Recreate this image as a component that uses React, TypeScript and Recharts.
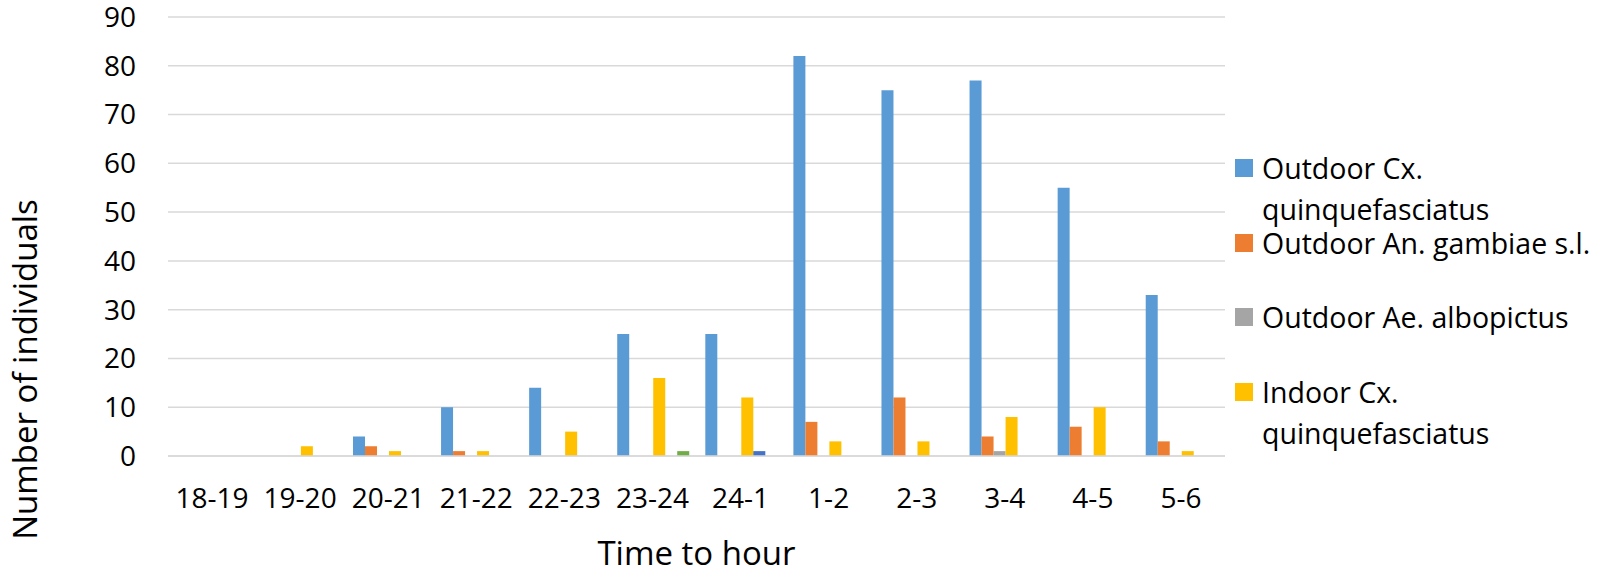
import { Bar, BarChart, CartesianGrid, Label, Legend, XAxis, YAxis } from "recharts";

const hours = ["18-19", "19-20", "20-21", "21-22", "22-23", "23-24", "24-1", "1-2", "2-3", "3-4", "4-5", "5-6"];

const outdoorCx = [0, 0, 4, 10, 14, 25, 25, 82, 75, 77, 55, 33];
const outdoorAn = [0, 0, 2, 1, 0, 0, 0, 7, 12, 4, 6, 3];
const outdoorAe = [0, 0, 0, 0, 0, 0, 0, 0, 0, 1, 0, 0];
const indoorCx = [0, 2, 1, 1, 5, 16, 12, 3, 3, 8, 10, 1];
const indoorAn = [0, 0, 0, 0, 0, 0, 1, 0, 0, 0, 0, 0];
const indoorAe = [0, 0, 0, 0, 0, 1, 0, 0, 0, 0, 0, 0];

const yTicks = [0, 10, 20, 30, 40, 50, 60, 70, 80, 90];

const series = [
  { key: "outdoorCx", name: "Outdoor Cx. quinquefasciatus", color: "#5B9BD5", values: outdoorCx, legend: true },
  { key: "outdoorAn", name: "Outdoor An. gambiae s.l.", color: "#ED7D31", values: outdoorAn, legend: true },
  { key: "outdoorAe", name: "Outdoor Ae. albopictus", color: "#A5A5A5", values: outdoorAe, legend: true },
  { key: "indoorCx", name: "Indoor Cx. quinquefasciatus", color: "#FFC000", values: indoorCx, legend: true },
  { key: "indoorAn", name: "Indoor An. gambiae s.l.", color: "#4472C4", values: indoorAn, legend: false },
  { key: "indoorAe", name: "Indoor Ae. albopictus", color: "#70AD47", values: indoorAe, legend: false },
];

const data = hours.map((hour, i) => {
  const row: Record<string, string | number> = { hour };
  series.forEach((s) => {
    row[s.key] = s.values[i];
  });
  return row;
});

const FONT = '"Open Sans", "Noto Sans", sans-serif';

// only the first four series are shown in the legend (the rest is cut off in the original)
function LegendBox() {
  return (
    <div style={{ fontFamily: FONT }}>
      {series
        .filter((s) => s.legend)
        .map((s) => (
          <div key={s.key} style={{ display: "flex", alignItems: "flex-start", height: 74.5 }}>
            <span
              style={{
                width: 18,
                height: 18,
                background: s.color,
                marginTop: 11,
                marginRight: 9,
                flex: "none",
              }}
            />
            <span style={{ fontSize: 28.5, lineHeight: "41px", color: "#000", width: 338 }}>{s.name}</span>
          </div>
        ))}
    </div>
  );
}

function YTitle({ viewBox }: any) {
  const x = 37;
  const y = (viewBox?.y ?? 17) + (viewBox?.height ?? 439) / 2 + 133;
  return (
    <text
      x={x}
      y={y}
      transform={`rotate(-90 ${x} ${y})`}
      textAnchor="middle"
      fontSize={33}
      fontFamily={FONT}
      fill="#000"
    >
      Number of individuals
    </text>
  );
}

export default function App() {
  return (
    <div style={{ position: "absolute", left: 0, top: 0, width: 1600, height: 574, background: "#fff" }}>
      <BarChart
        width={1600}
        height={574}
        data={data}
        margin={{ top: 17, right: 375, bottom: 0, left: 0 }}
        barGap={0}
        barCategoryGap="10%"
        style={{ fontFamily: FONT }}
      >
        <CartesianGrid vertical={false} stroke="#D9D9D9" strokeWidth={1.5} />
        <XAxis
          dataKey="hour"
          height={118}
          tickLine={false}
          tickSize={0}
          tickMargin={32}
          axisLine={{ stroke: "#D9D9D9", strokeWidth: 1.5 }}
          tick={{ fill: "#000", fontSize: 28 }}
          interval={0}
        >
          <Label value="Time to hour" position="insideBottom" offset={9} fill="#000" fontSize={33} />
        </XAxis>
        <YAxis
          width={168}
          domain={[0, 90]}
          ticks={yTicks}
          interval={0}
          axisLine={false}
          tickLine={false}
          tickSize={0}
          tickMargin={32}
          tick={{ fill: "#000", fontSize: 28 }}
        >
          <Label content={<YTitle />} />
        </YAxis>
        <Legend
          layout="horizontal"
          align="center"
          verticalAlign="middle"
          content={<LegendBox />}
          wrapperStyle={{ left: 1235, top: 148, width: 365 }}
        />
        {series.map((s) => (
          <Bar key={s.key} dataKey={s.key} name={s.name} fill={s.color} isAnimationActive={false} />
        ))}
      </BarChart>
    </div>
  );
}
